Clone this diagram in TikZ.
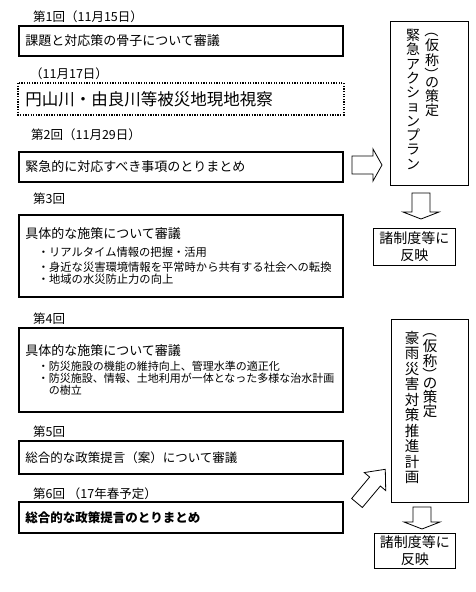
\documentclass[tikz,border=0pt]{standalone}
\usepackage{fontspec}
\setmainfont{Noto Sans CJK JP}
\newcommand{\jfs}[2]{\fontsize{#1pt}{#2pt}\selectfont}
\tikzset{
  mainbox/.style={draw, line width=1.6pt, rectangle, anchor=north west, inner xsep=6pt, inner ysep=0pt, text width=311pt, align=left, minimum width=324pt},
  lbl/.style={anchor=west, inner sep=0pt, font=\jfs{12.5}{14}},
  sidebox/.style={draw, line width=0.8pt, rectangle, anchor=north west, inner sep=0pt, align=center, font=\jfs{14}{17}},
  vtext/.style={anchor=north, inner sep=0pt, align=center},
  vchar/.style={inner sep=0pt, align=center},
  vparen/.style={inner sep=0pt, rotate=-90},
  barrow/.style={draw, line width=0.8pt, fill=white, line join=miter},
}
\begin{document}
\begin{tikzpicture}[x=1pt,y=-1pt]
\fill[white] (0,0) rectangle (475,592);
\useasboundingbox (0,0) rectangle (475,592);

% left column
\node[lbl] (l1) at (33,17) {第1回（11月15日）};
\node[mainbox, minimum height=30pt, font=\jfs{13}{15}] (b1) at (18,25) {課題と対応策の骨子について審議};
\node[lbl] (l1b) at (30,74) {（11月17日）};
\node[mainbox, minimum height=30pt, font=\jfs{16.5}{18}, draw=none] (bd) at (18,83) {円山川・由良川等被災地現地視察};
\draw[line width=2pt, dash pattern=on 1.3pt off 1.3pt] (bd.north west) rectangle (bd.south east);
\node[lbl] (l2) at (31,135) {第2回（11月29日）};
\node[mainbox, minimum height=30pt, font=\jfs{13}{15}] (b2) at (18,151) {緊急的に対応すべき事項のとりまとめ};
\node[lbl] (l3) at (33,199) {第3回};
\node[mainbox, minimum height=82pt] (b3) at (18,214) {\jfs{13}{15}具体的な施策について審議\\[3pt]
\jfs{11.3}{15}\hspace*{12.5pt}・リアルタイム情報の把握・活用\\
\hspace*{12.5pt}・身近な災害環境情報を平常時から共有する社会への転換\\
\hspace*{12.5pt}・地域の水災防止力の向上};
\node[lbl] (l4) at (33,319) {第4回};
\node[mainbox, minimum height=84pt] (b4) at (18,327) {\jfs{13}{15}具体的な施策について審議\\[3.5pt]
\jfs{11}{11.8}\hspace*{12.5pt}・防災施設の機能の維持向上、管理水準の適正化\\
\hspace*{12.5pt}・防災施設、情報、土地利用が一体となった多様な治水計画\\
\hspace*{23.5pt}の樹立};
\node[lbl] (l5) at (33,432) {第5回};
\node[mainbox, minimum height=33pt, font=\jfs{12.5}{15}] (b5) at (18,440) {総合的な政策提言（案）について審議};
\node[lbl] (l6) at (33,494) {第6回 （17年春予定）};
\node[mainbox, minimum height=31pt, font=\jfs{12.5}{15}\bfseries] (b6) at (18,501) {総合的な政策提言のとりまとめ};

% right column: upper plan box
\node[sidebox, minimum width=78pt, minimum height=164pt] (pa) at (390,21) {};
\node[vparen, font=\jfs{14}{15}] (pa1a) at (432,30.5) {（};
\node[vchar, font=\jfs{14}{15}] (pa1b) at (432,53) {仮\\称};
\node[vparen, font=\jfs{14}{15}] (pa1c) at (432,74.5) {）};
\node[vchar, font=\jfs{14}{14}] (pa1d) at (432,97.5) {の\\策\\定};
\node[vtext, font=\jfs{14}{14.3}] (pa2) at (413,29) {緊\\急\\ア\\ク\\シ\\ョ\\ン\\プ\\ラ\\ン};
\node[sidebox, minimum width=82pt, minimum height=37pt] (r1) at (373,228) {諸制度等に\\反映};

% right column: lower plan box
\node[sidebox, minimum width=77pt, minimum height=183pt] (pb) at (391,319) {};
\node[vparen, font=\jfs{14.5}{15}] (pb1a) at (430,330.5) {（};
\node[vchar, font=\jfs{14.5}{15}] (pb1b) at (430,353) {仮\\称};
\node[vparen, font=\jfs{14.5}{15}] (pb1c) at (430,374.5) {）};
\node[vchar, font=\jfs{14.5}{14}] (pb1d) at (430,397.5) {の\\策\\定};
\node[vtext, font=\jfs{14.5}{15.5}] (pb2) at (412,331) {豪\\雨\\災\\害\\対\\策\\推\\進\\計\\画};
\node[sidebox, minimum width=81pt, minimum height=35pt] (r2) at (374,533) {諸制度等に\\反映};

% block arrows
\draw[barrow] (352,156) -- (373,156) -- (373,149) -- (382,165) -- (373,181) -- (373,174) -- (352,174) -- cycle;
\draw[barrow] (412,193) -- (412,212) -- (403,212) -- (421,219) -- (439,212) -- (430,212) -- (430,193) -- cycle;
\draw[barrow] (413,507) -- (413,522) -- (404,522) -- (422,529) -- (440,522) -- (431,522) -- (431,507) -- cycle;
\draw[barrow, shift={(357,503)}, rotate=50] (0,-7) -- (28,-7) -- (28,-14) -- (44,0) -- (28,14) -- (28,7) -- (0,7) -- cycle;
\end{tikzpicture}
\end{document}
